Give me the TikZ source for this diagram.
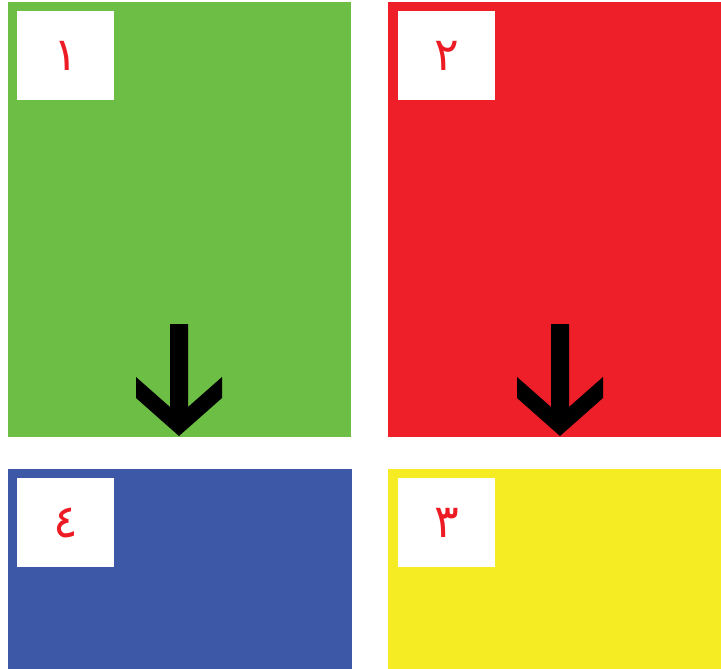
\documentclass[tikz,border=0pt]{standalone}
\usepackage{fontspec}
\newfontfamily\arabicfont[Script=Arabic]{DejaVu Sans}
\definecolor{pgreen}{HTML}{6CBE45}
\definecolor{pred}{HTML}{EE1F28}
\definecolor{pblue}{HTML}{3D58A7}
\definecolor{pyellow}{HTML}{F5EC23}
\definecolor{digred}{HTML}{ED1C24}
\begin{document}
\begin{tikzpicture}[x=1pt,y=-1pt,
  numbox/.style={fill=white,inner sep=0pt,minimum width=97pt,minimum height=89pt,
     text=digred,font=\arabicfont\fontsize{46}{46}\selectfont},
  downarrow/.pic={\fill[black] (-9,-112) -- (9,-112) -- (9,-29) -- (43,-59) -- (43,-38) -- (0,0)
     -- (-43,-38) -- (-43,-59) -- (-9,-29) -- cycle;}]
\useasboundingbox[fill=white] (0,0) rectangle (721,669);
\fill[pgreen] (8,2) rectangle (351,437);
\fill[pred] (388,2) rectangle (721,437);
\fill[pblue] (8,469) rectangle (352,669);
\fill[pyellow] (388,469) rectangle (721,669);
\node[numbox] (n1) at (65.5,55.5) {١};
\node[numbox] (n2) at (446.5,55.5) {٢};
\node[numbox] (n3) at (446.5,522.5) {٣};
\node[numbox] (n4) at (65.5,522.5) {٤};
\pic at (179,436) {downarrow};
\pic at (560,436) {downarrow};
\end{tikzpicture}
\end{document}
